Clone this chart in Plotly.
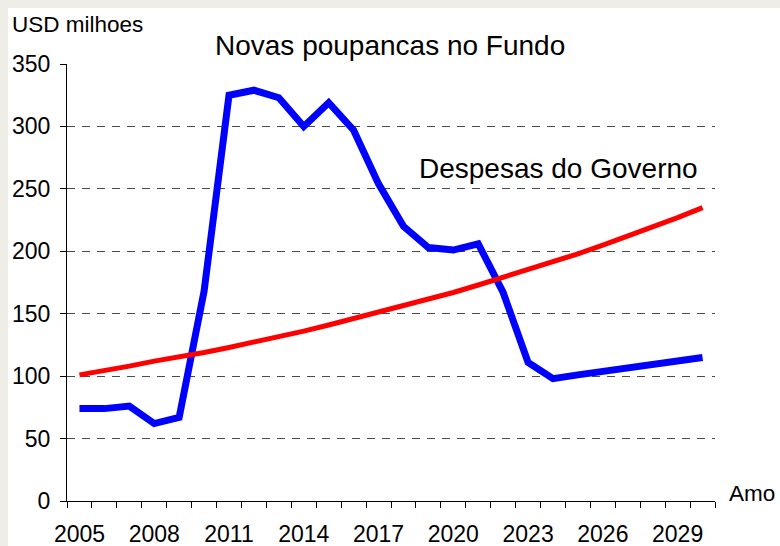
import plotly.graph_objects as go

years = list(range(2005, 2031))
poupancas = [74, 74, 76, 62, 67, 168, 325, 329, 323, 300, 319, 297, 254, 220,
             203, 201, 206, 167, 111, 98, 101, 104, 107, 110, 113, 115]
despesas = [101, 104, 108, 112, 115, 119, 123, 127, 131, 136, 141, 146, 151, 156,
            161, 167, 173, 179, 185, 191, 198, 205, 212, 219, 227, 235]
x_tick_labels = [2005, 2008, 2011, 2014, 2017, 2020, 2023, 2026, 2029]
y_ticks = [0, 50, 100, 150, 200, 250, 300, 350]

FONT = "Liberation Sans, Arial, sans-serif"

# plot area in page pixels: left 67, right 715, top 64, bottom 501
PL, PR, PT, PB = 67.0, 715.0, 64.0, 501.0
def px(xp):
    return (xp - PL) / (PR - PL)
def py(yp):
    return (PB - yp) / (PB - PT)

fig = go.Figure()
fig.add_trace(go.Scatter(x=years, y=poupancas, mode="lines",
                         line=dict(color="#0000FF", width=7),
                         hoverinfo="skip", showlegend=False))
fig.add_trace(go.Scatter(x=years, y=despesas, mode="lines",
                         line=dict(color="#FF0000", width=5),
                         hoverinfo="skip", showlegend=False))

fig.update_layout(
    width=772, height=538,
    margin=dict(l=59, r=65, t=56, b=45),
    paper_bgcolor="white",
    plot_bgcolor="white",
    font=dict(family=FONT, color="black", size=23),
    showlegend=False,
    hovermode=False,
    xaxis=dict(range=[2004.5, 2030.5], tickvals=x_tick_labels,
               ticktext=[str(v) for v in x_tick_labels],
               ticks="", showgrid=False, zeroline=False,
               showline=True, linecolor="black", linewidth=1,
               tickfont=dict(size=23, family=FONT),
               ticklabelstandoff=12, automargin=False,
               minor=dict(tick0=2004.5, dtick=1, ticks="outside", ticklen=6,
                          tickcolor="black", tickwidth=1, showgrid=False),
               fixedrange=True),
    yaxis=dict(range=[0, 350], tickvals=y_ticks, ticks="outside", ticklen=6,
               tickcolor="black", tickwidth=1,
               showline=True, linecolor="black", linewidth=1,
               showgrid=True, gridcolor="#4a4a4a", gridwidth=1, griddash="8px,7px",
               zeroline=False, tickfont=dict(size=23, family=FONT),
               ticklabelstandoff=5, automargin=False, fixedrange=True),
    annotations=[
        dict(text="USD milhoes", xref="paper", yref="paper",
             x=px(10), y=py(25),
             xanchor="left", yanchor="middle", showarrow=False,
             font=dict(size=22.5, family=FONT)),
        dict(text="Novas poupancas no Fundo", xref="paper", yref="paper",
             x=px(390), y=py(46),
             xanchor="center", yanchor="middle", showarrow=False,
             font=dict(size=28, family=FONT)),
        dict(text="Despesas do Governo", xref="paper", yref="paper",
             x=px(558), y=py(168),
             xanchor="center", yanchor="middle", showarrow=False,
             font=dict(size=28, family=FONT)),
        dict(text="Amo", xref="paper", yref="paper",
             x=px(727), y=py(493),
             xanchor="left", yanchor="middle", showarrow=False,
             font=dict(size=22.5, family=FONT)),
    ],
)

fig.write_html(
    "out.html",
    post_script=("document.body.style.background='#EFEEE6';"
                 "document.body.style.margin='8px 0 0 8px';"
                 "document.body.style.overflow='hidden';"),
)
